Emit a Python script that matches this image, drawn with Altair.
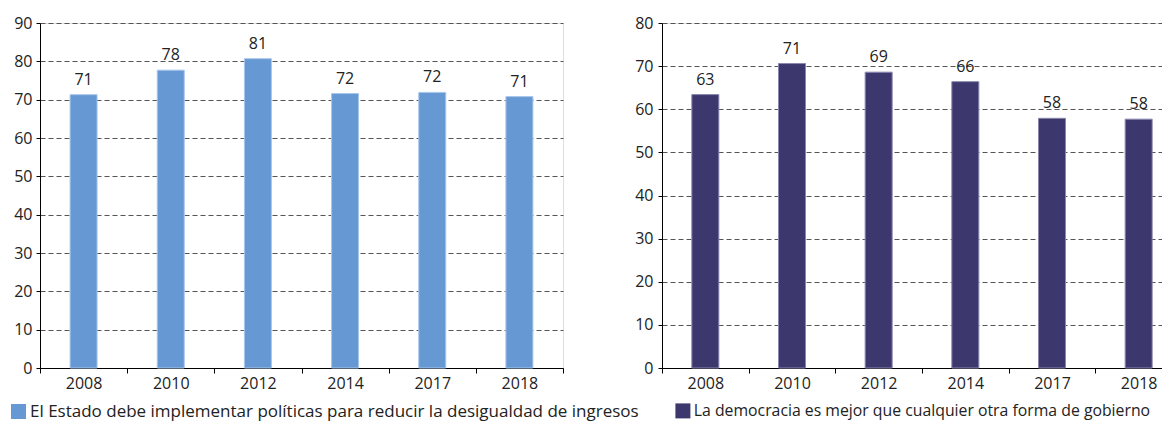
import altair as alt
import pandas as pd

years = ["2008", "2010", "2012", "2014", "2017", "2018"]
estado = [71.3, 77.7, 80.7, 71.6, 71.9, 70.8]
democracia = [63.4, 70.6, 68.6, 66.4, 57.9, 57.7]
label_estado = "El Estado debe implementar políticas para reducir la desigualdad de ingresos"
label_demo = "La democracia es mejor que cualquier otra forma de gobierno"
color_estado = "#6699d3"
color_demo = "#3c386e"
FONT = "Open Sans"


def panel(values, label, color, edge, ymax, w, lx, ly, ylabpad, legsize):
    df = pd.DataFrame({"year": years, "value": values, "serie": [label] * len(years)})
    x = alt.X(
        "year:N", sort=years, title=None,
        scale=alt.Scale(paddingInner=0, paddingOuter=0),
        axis=alt.Axis(labelAngle=0, tickBand="extent", tickSize=5, domainColor="black",
                      tickColor="black", labelFontSize=16, labelPadding=2,
                      labelColor="#222222", grid=False, labelFont=FONT),
    )
    y = alt.Y(
        "value:Q", title=None,
        scale=alt.Scale(domain=[0, ymax], nice=False),
        axis=alt.Axis(values=list(range(0, ymax + 1, 10)), grid=True, gridDash=[5, 3],
                      gridColor="#555555", gridWidth=1, tickSize=4, tickColor="black",
                      domainColor="black", labelFontSize=16, labelPadding=ylabpad,
                      labelColor="#222222", labelFont=FONT, labelOverlap=False),
    )
    bars = alt.Chart(df).mark_bar(width=27, stroke=edge, strokeWidth=1).encode(
        x=x, y=y,
        color=alt.Color(
            "serie:N", scale=alt.Scale(domain=[label], range=[color]),
            legend=alt.Legend(title=None, orient="none", legendX=lx, legendY=ly,
                              symbolType="square", symbolSize=225, symbolStrokeWidth=0,
                              symbolOpacity=1, labelFontSize=legsize, labelFont=FONT,
                              labelColor="#222222", labelLimit=2000, labelOffset=3),
        ),
    )
    text = alt.Chart(df).mark_text(dy=-10, baseline="alphabetic", fontSize=16, font=FONT,
                                   color="#222222").encode(
        x=x, y=y,
        text=alt.Text("value:Q", format=".0f"),
    )
    return alt.layer(bars, text).properties(width=w, height=345)


left = panel(estado, label_estado, color_estado, "#a9c6ec", 90, 523, -30, 380, 4, 17)
right = panel(democracia, label_demo, color_demo, "#8a87b0", 80, 520, 13, 380, 5, 15.8)

chart = alt.hconcat(left, right, spacing=99, bounds="flush").resolve_scale(
    color="independent", y="independent", x="independent"
).properties(
    autosize=alt.AutoSizeParams(type="none"),
    padding={"left": 32, "top": 15, "right": 1122, "bottom": 397},
).configure_view(stroke=None).configure(font=FONT)

chart.save("out.html", embed_options={"renderer": "svg", "actions": False})
